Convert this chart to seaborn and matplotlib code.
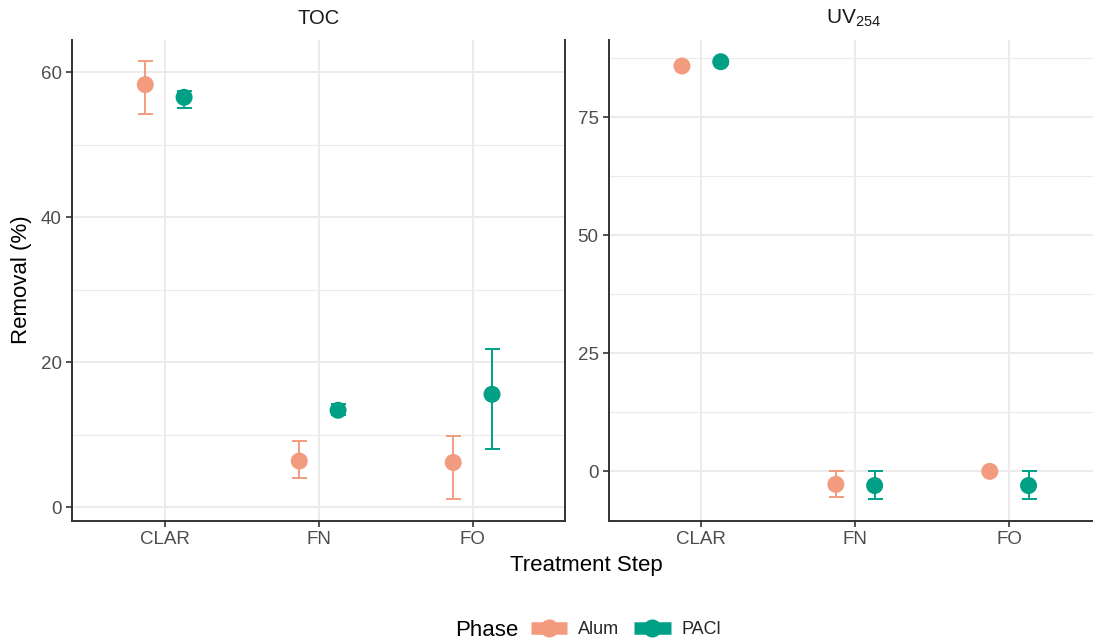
import numpy as np
import pandas as pd
import matplotlib
matplotlib.use("Agg")
import matplotlib.pyplot as plt
import seaborn as sns
from matplotlib.lines import Line2D
from matplotlib.ticker import MultipleLocator

sns.set_theme(style="white")
plt.rcParams['font.family'] = ['Liberation Sans', 'DejaVu Sans']
plt.rcParams['mathtext.fontset'] = 'custom'
plt.rcParams['mathtext.rm'] = 'Liberation Sans'
plt.rcParams['mathtext.it'] = 'Liberation Sans:italic'

# ---- data ----
steps = ["CLAR", "FN", "FO"]
phases = ["Alum", "PACl"]

toc_alum = [58.3, 6.4, 6.2]
toc_alum_lo = [54.2, 4.1, 1.2]
toc_alum_hi = [61.5, 9.1, 9.9]
toc_pacl = [56.55, 13.4, 15.6]
toc_pacl_lo = [55.1, 12.7, 8.05]
toc_pacl_hi = [57.4, 14.3, 21.85]

uv_alum = [85.8, -2.75, 0.0]
uv_alum_lo = [85.4, -5.5, 0.0]
uv_alum_hi = [86.2, 0.0, 0.0]
uv_pacl = [86.7, -3.0, -3.0]
uv_pacl_lo = [86.3, -5.9, -5.9]
uv_pacl_hi = [87.1, 0.0, 0.0]

colors = {"Alum": "#F39B7F", "PACl": "#00A087"}
dodge = {"Alum": -0.126, "PACl": 0.126}


def make_df(alum, alum_lo, alum_hi, pacl, pacl_lo, pacl_hi):
    rows = []
    for i, s in enumerate(steps):
        rows.append(dict(step=s, idx=i, phase="Alum", val=alum[i], lo=alum_lo[i], hi=alum_hi[i]))
        rows.append(dict(step=s, idx=i, phase="PACl", val=pacl[i], lo=pacl_lo[i], hi=pacl_hi[i]))
    df = pd.DataFrame(rows)
    df["x"] = df["idx"] + df["phase"].map(dodge)
    return df


df_toc = make_df(toc_alum, toc_alum_lo, toc_alum_hi, toc_pacl, toc_pacl_lo, toc_pacl_hi)
df_uv = make_df(uv_alum, uv_alum_lo, uv_alum_hi, uv_pacl, uv_pacl_lo, uv_pacl_hi)

W, H = 1093, 643
fig = plt.figure(figsize=(W / 100, H / 100), dpi=100)

pw = (1101.5 - 609) / W
ph = (520.5 - 40) / H
yb = 1 - 520.5 / H
ax1 = fig.add_axes([72.3 / W, yb, (565 - 72.3) / W, ph])
ax2 = fig.add_axes([609 / W, yb, pw, ph])

tick_col = "#4D4D4D"
spine_col = "#333333"


def draw(ax, df, ylim, major, minor, right_spine):
    for p in phases:
        d = df[df.phase == p]
        ax.errorbar(d["x"], d["val"], yerr=[d["val"] - d["lo"], d["hi"] - d["val"]],
                    fmt="none", ecolor=colors[p], elinewidth=1.4, capsize=5.4,
                    capthick=1.4, zorder=3)
    sns.scatterplot(data=df, x="x", y="val", hue="phase", palette=colors,
                    hue_order=phases, s=150, linewidth=0, ax=ax, legend=False, zorder=4)
    ax.set_xlim(-0.6, 2.6)
    ax.set_ylim(*ylim)
    ax.set_xticks(range(len(steps)))
    ax.set_xticklabels(steps)
    ax.yaxis.set_major_locator(MultipleLocator(major))
    ax.yaxis.set_minor_locator(MultipleLocator(minor))
    ax.grid(True, which="major", color="#EBEBEB", linewidth=1.4)
    ax.grid(True, which="minor", axis="y", color="#EBEBEB", linewidth=0.8)
    ax.set_axisbelow(True)
    ax.set_xlabel("")
    ax.set_ylabel("")
    for side in ["left", "bottom"]:
        ax.spines[side].set_visible(True)
        ax.spines[side].set_color(spine_col)
        ax.spines[side].set_linewidth(1.4)
    ax.spines["top"].set_visible(False)
    ax.spines["right"].set_visible(right_spine)
    ax.spines["right"].set_color(spine_col)
    ax.spines["right"].set_linewidth(1.4)
    ax.tick_params(axis="both", which="major", length=4, width=1.2, color=spine_col,
                   labelcolor=tick_col, labelsize=13.5, pad=3.5, left=True, bottom=True)
    ax.tick_params(axis="both", which="minor", length=0)


draw(ax1, df_toc, (-1.8, 64.45), 20, 10, True)
draw(ax2, df_uv, (-10.4, 91.3), 25, 12.5, True)

fig.text(318.5 / W, 1 - 18 / H, "TOC", ha="center", va="center", fontsize=14.5, color="#1A1A1A")
fig.text(854 / W, 1 - 18 / H, r"UV$_{\mathrm{254}}$", ha="center", va="center", fontsize=15,
         color="#1A1A1A")
fig.text(586 / W, 1 - 565 / H, "Treatment Step", ha="center", va="center", fontsize=16, color="black")
fig.text(22 / W, 1 - 280 / H, "Removal (%)", ha="center", va="center", rotation=90,
         fontsize=16, color="black")

fig.text(518 / W, 1 - 630 / H, "Phase", ha="right", va="center", fontsize=16, color="black")
handles = [Line2D([0], [0], color=colors[p], lw=9, marker="o", markersize=12,
                  solid_capstyle="butt") for p in phases]
leg = fig.legend(handles, ["Alum", "PACl"], loc="center left",
                 bbox_to_anchor=(531 / W, 1 - 630 / H), ncol=2, frameon=False,
                 fontsize=13, handlelength=2.0, handletextpad=0.6, columnspacing=0.85,
                 borderaxespad=0, borderpad=0)

fig.savefig("out.png", dpi=100)
